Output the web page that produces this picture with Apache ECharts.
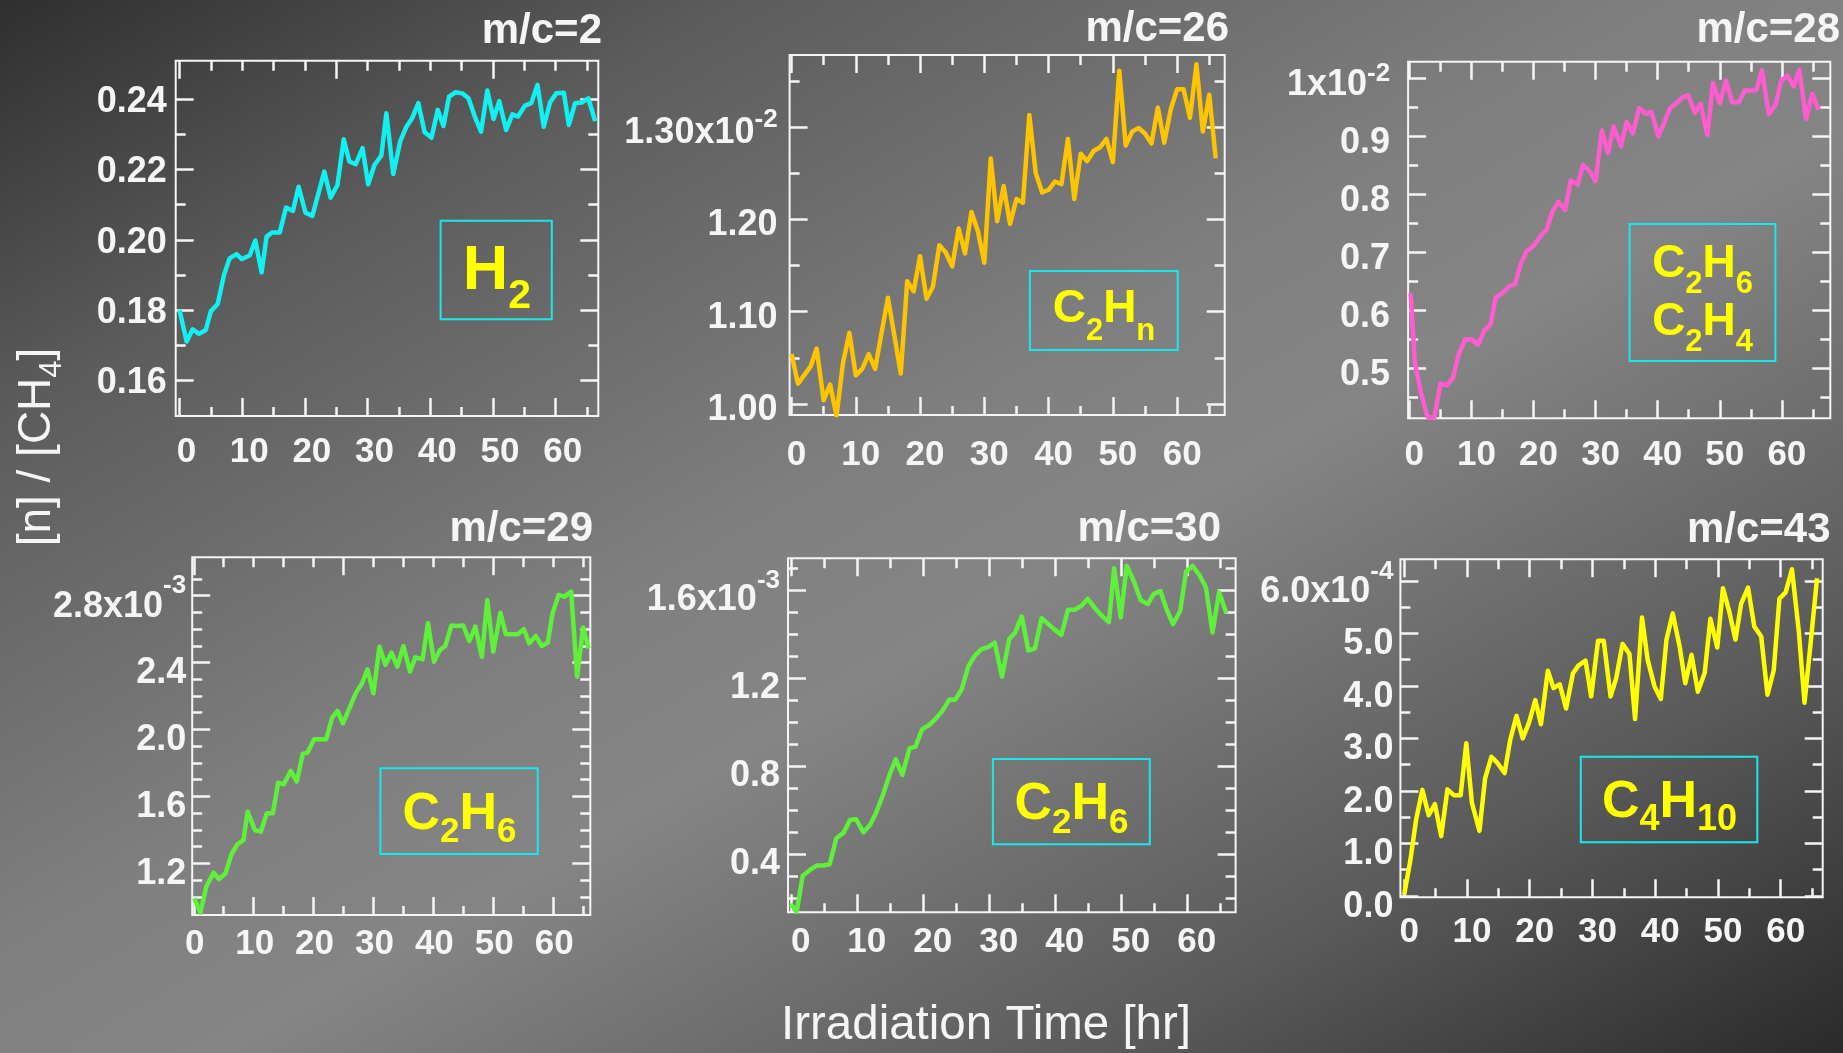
<!DOCTYPE html>
<html><head><meta charset="utf-8">
<script src="https://cdn.jsdelivr.net/npm/echarts@6/dist/echarts.min.js"></script>
<style>html,body{margin:0;padding:0;background:#555;}#c{width:1843px;height:1053px;}</style>
</head><body><div id="c"></div>
<script>
// ---------- DATA ----------
// m/c=2  (H2), [n]/[CH4]
const H2_T = [0,1.15,2.1,3.1,4.2,5.0,6.1,7.1,8.0,9.1,9.95,11.2,12.1,13.1,13.9,14.8,16.0,17.0,18.1,19.0,20.1,21.2,23.1,24.1,25.2,26.2,27.1,28.1,29.2,30.1,31.1,32.2,33.0,34.1,35.2,36.2,37.1,38.1,39.1,40.2,41.2,42.1,43.0,44.0,45.1,46.1,47.1,48.1,49.1,50.1,51.0,52.1,53.1,54.0,55.1,56.1,57.1,58.1,59.1,60.1,61.3,62.1,63.1,64.2,65.2,66.3];
const H2_V = [0.180,0.171,0.1745,0.1732,0.1743,0.1796,0.1817,0.190,0.1947,0.1959,0.1945,0.1955,0.1998,0.1907,0.2009,0.2021,0.2021,0.2092,0.2082,0.2151,0.2077,0.2068,0.2194,0.2120,0.2156,0.2286,0.2223,0.2215,0.2261,0.2158,0.2213,0.2240,0.2360,0.2187,0.2280,0.2322,0.2346,0.2389,0.2306,0.2291,0.2370,0.2324,0.2408,0.2420,0.2417,0.2403,0.2351,0.2308,0.2425,0.2344,0.2395,0.2313,0.2357,0.2351,0.2382,0.2389,0.2441,0.2322,0.2391,0.2417,0.2419,0.2327,0.2389,0.2391,0.2403,0.2338];
// m/c=26 (C2Hn), units of 1e-2
const C2HN_T = [0,1,3,3.9,5,6,7,8,9,10,11,12,13,15,17,18,19,20,21,22,23,24,25,26,27,28,29,30,31,32,33,34,35,36,37,38,39,40,41,42,43,44,45,46,47,48,49,50,51,52,53,54,55,56,57,58,59,60,61,62,63,64,65,66];
const C2HN_V = [1.054,1.022,1.041,1.060,1.004,1.021,0.987,1.044,1.077,1.031,1.038,1.054,1.038,1.115,1.033,1.133,1.122,1.160,1.114,1.127,1.172,1.164,1.149,1.190,1.163,1.208,1.187,1.153,1.266,1.198,1.236,1.195,1.222,1.218,1.313,1.250,1.229,1.232,1.241,1.238,1.287,1.222,1.271,1.263,1.274,1.278,1.287,1.262,1.361,1.280,1.295,1.299,1.293,1.282,1.321,1.283,1.319,1.341,1.341,1.310,1.368,1.295,1.335,1.266];
// m/c=28 (C2H6, C2H4), units of 1e-2
const M28_T = [0.2,0.9,1.9,2.9,4.0,5.0,6.1,7.0,8.0,9.0,10.0,11.1,12.1,13.1,13.9,15.0,16.1,17.0,18.0,18.9,20.0,21.1,22.1,23.0,24.0,25.1,26.0,27.1,28.0,29.1,30.0,31.0,32.0,32.9,34.1,35.0,36.0,37.0,38.1,39.0,40.1,41.1,42.0,43.0,44.0,44.9,46.0,46.9,48.0,48.9,50.0,51.0,52.0,53.1,54.0,55.0,55.9,56.8,57.9,59.0,59.9,60.9,61.9,62.8,63.9,64.9,65.9];
const M28_V = [0.630,0.509,0.457,0.417,0.414,0.474,0.471,0.483,0.526,0.550,0.550,0.541,0.566,0.576,0.622,0.630,0.642,0.645,0.682,0.702,0.711,0.728,0.739,0.769,0.787,0.773,0.824,0.817,0.851,0.839,0.823,0.910,0.871,0.917,0.883,0.925,0.905,0.949,0.939,0.942,0.900,0.925,0.949,0.957,0.967,0.971,0.941,0.956,0.902,0.992,0.957,0.996,0.959,0.959,0.979,0.979,0.980,1.014,0.938,0.955,0.996,1.005,0.986,1.015,0.930,0.973,0.946];
// m/c=29 (C2H6), units of 1e-3
const M29_T = [0.1,1.1,2.1,3.3,4.2,5.3,6.3,7.3,8.3,9.0,10.2,11.2,12.2,13.2,14.1,15.0,16.2,17.2,18.2,19.0,20.1,22.1,23.1,24.0,24.9,26.1,27.1,28.1,29.0,30.0,31.0,32.0,33.0,34.0,35.0,36.1,37.0,38.2,39.1,40.1,41.1,42.0,43.0,44.0,45.0,46.0,47.0,48.1,49.0,50.0,51.2,52.1,54.1,55.1,56.0,57.1,58.1,59.1,59.9,60.9,61.9,63.0,64.0,65.0,65.9];
const M29_V = [0.991,0.905,1.061,1.144,1.106,1.140,1.254,1.314,1.340,1.509,1.399,1.389,1.499,1.499,1.682,1.672,1.752,1.688,1.854,1.862,1.941,1.941,2.071,2.111,2.037,2.137,2.220,2.276,2.360,2.216,2.495,2.386,2.459,2.376,2.499,2.346,2.431,2.419,2.635,2.405,2.475,2.499,2.621,2.619,2.621,2.529,2.615,2.435,2.774,2.465,2.698,2.569,2.569,2.599,2.515,2.559,2.499,2.519,2.694,2.804,2.794,2.824,2.316,2.609,2.485];
// m/c=30 (C2H6), units of 1e-3
const M30_T = [0,0.9,1.8,2.9,3.9,5.0,5.9,6.9,8.0,9.0,9.9,11.0,12.0,12.9,14.0,15.0,15.9,16.9,18.0,18.9,19.9,21.0,21.9,23.0,24.0,24.9,25.9,26.9,27.9,28.9,29.9,30.9,32.0,33.1,34.0,35.0,36.0,37.0,38.0,39.0,40.0,41.0,42.0,43.0,44.0,45.0,46.0,47.0,48.2,49.0,50.0,50.9,52.0,53.0,54.1,55.0,56.0,56.9,57.9,59.0,59.9,60.9,61.9,62.9,63.9,64.9,66.0];
const M30_V = [0.172,0.137,0.300,0.327,0.347,0.347,0.353,0.471,0.497,0.555,0.558,0.499,0.532,0.585,0.672,0.763,0.831,0.760,0.881,0.889,0.968,0.988,1.014,1.053,1.102,1.102,1.150,1.254,1.304,1.333,1.342,1.363,1.208,1.378,1.409,1.482,1.327,1.337,1.474,1.448,1.421,1.398,1.512,1.512,1.530,1.562,1.523,1.489,1.456,1.702,1.478,1.712,1.641,1.557,1.538,1.585,1.598,1.519,1.447,1.507,1.687,1.712,1.671,1.615,1.409,1.592,1.497];
// m/c=43 (C4H10), units of 1e-4
const M43_T = [0,1.0,1.9,2.9,3.9,4.9,5.9,6.9,7.9,9.0,9.9,10.8,12.0,12.9,13.9,14.9,16.0,16.9,17.9,18.9,19.9,20.9,21.8,22.9,23.8,24.8,25.8,26.9,27.8,28.9,29.8,30.9,31.8,32.9,33.8,34.8,35.9,36.8,37.9,38.8,39.9,40.9,41.8,42.8,43.9,44.8,45.8,46.8,47.9,48.8,49.9,50.8,51.8,52.8,53.7,54.8,55.8,56.9,57.9,58.9,59.8,60.8,61.8,62.9,63.8,64.8,65.8];
const M43_V = [0.02,0.69,1.45,2.02,1.54,1.75,1.14,2.03,1.92,1.92,2.91,1.77,1.24,2.24,2.65,2.53,2.34,2.97,3.43,3.00,3.30,3.73,3.27,4.29,3.96,4.03,3.57,4.24,4.39,4.48,3.80,4.86,4.86,3.80,4.15,4.80,4.61,3.37,5.30,4.50,3.99,3.75,4.88,5.38,4.75,4.05,4.59,3.89,4.25,5.28,4.73,5.86,5.42,4.88,5.56,5.87,5.13,4.94,3.83,4.30,5.66,5.78,6.22,5.03,3.68,4.84,6.05];

// ---------- TICKS / LABELS ----------
const X_MAJOR = [0,10,20,30,40,50,60];
const X_MINOR = [5,15,25,35,45,55,65];
const X_TOP_MAJOR_ALT = [0,25,50];
const X_TOP_MINOR_ALT = [5,10,15,20,30,35,40,45,55,60,65];

const Y1_MAJOR = [0.16,0.18,0.20,0.22,0.24];
const Y1_MINOR = [0.17,0.19,0.21,0.23];
const Y1_LABELS = ['0.16','0.18','0.20','0.22','0.24'];
const Y2_MAJOR = [1.00,1.10,1.20,1.30];
const Y2_MINOR = [1.05,1.15,1.25,1.35];
const Y2_LABELS = ['1.00','1.10','1.20','1.30x10'];
const Y3_MAJOR = [0.5,0.6,0.7,0.8,0.9,1.0];
const Y3_MINOR = [0.45,0.55,0.65,0.75,0.85,0.95];
const Y3_LABELS = ['0.5','0.6','0.7','0.8','0.9','1x10'];
const Y4_MAJOR = [1.2,1.6,2.0,2.4,2.8];
const Y4_MINOR = [1.0,1.1,1.3,1.4,1.5,1.7,1.8,1.9,2.1,2.2,2.3,2.5,2.6,2.7,2.9];
const Y4_LABELS = ['1.2','1.6','2.0','2.4','2.8x10'];
const Y5_MAJOR = [0.4,0.8,1.2,1.6];
const Y5_MINOR = [0.2,0.3,0.5,0.6,0.7,0.9,1.0,1.1,1.3,1.4,1.5,1.7];
const Y5_LABELS = ['0.4','0.8','1.2','1.6x10'];
const Y6_MAJOR = [0,1,2,3,4,5,6];
const Y6_MINOR = [0.5,1.5,2.5,3.5,4.5,5.5];
const Y6_LABELS = ['0.0','1.0','2.0','3.0','4.0','5.0','6.0x10'];

const TITLES = ['m/c=2','m/c=26','m/c=28','m/c=29','m/c=30','m/c=43'];

// ---------- LAYOUT / STYLE ----------
const FONT = '"Liberation Sans", Arial, Helvetica, sans-serif';
const panels = [
  {t:H2_T, v:H2_V, color:'#10f2f2', grid:{left:175.7,top:60.7,width:422.6,height:355.3}, xMin:-0.6, xMax:66.8, yMin:0.1498, yMax:0.251,
   yMajor:Y1_MAJOR, yMinor:Y1_MINOR, yLabels:Y1_LABELS, exp:null, expPad:0, topMajor:X_TOP_MAJOR_ALT, topMinor:X_TOP_MINOR_ALT,
   xMargin:19, xShift:7, yMargin:9, yOff:3, titleX:602, titleY:31,
   box:{x:440.6,y:220.7,w:111.2,h:98.6, tx:497, ty:278.5, lines:[[['H','m'],['2','s']]], F:63, f:41, d:14}},
  {t:C2HN_T, v:C2HN_V, color:'#ffc400', grid:{left:789.6,top:55,width:435.1,height:360}, xMin:-0.3, xMax:67.4, yMin:0.988, yMax:1.378,
   yMajor:Y2_MAJOR, yMinor:Y2_MINOR, yLabels:Y2_LABELS, exp:'-2', expPad:8, topMajor:X_MAJOR, topMinor:X_MINOR,
   xMargin:23, xShift:5, yMargin:12, yOff:6, titleX:1229, titleY:29.5,
   box:{x:1029.9,y:271,w:147.8,h:79, tx:1104, ty:316.7, lines:[[['C','m'],['2','s'],['H','m'],['n','s']]], F:46, f:31, d:14}},
  {t:M28_T, v:M28_V, color:'#ff5ccf', grid:{left:1408.1,top:61.7,width:422.2,height:356.6}, xMin:-0.2, xMax:67.8, yMin:0.414, yMax:1.0287,
   yMajor:Y3_MAJOR, yMinor:Y3_MINOR, yLabels:Y3_LABELS, exp:'-2', expPad:6.5, topMajor:X_MAJOR, topMinor:X_MINOR,
   xMargin:20, xShift:5, yMargin:18, yOff:7, titleX:1840, titleY:30.5,
   box:{x:1629.6,y:224,w:145.8,h:137, tx:1702.6, ty:299.7, lines:[[['C','m'],['2','s'],['H','m'],['6','s']],[['C','m'],['2','s'],['H','m'],['4','s']]], F:46, f:31, d:12}},
  {t:M29_T, v:M29_V, color:'#5ef03a', grid:{left:192.2,top:557.3,width:398.1,height:357.7}, xMin:-0.26, xMax:66.2, yMin:0.891, yMax:3.029,
   yMajor:Y4_MAJOR, yMinor:Y4_MINOR, yLabels:Y4_LABELS, exp:'-3', expPad:15.5, topMajor:X_TOP_MAJOR_ALT, topMinor:X_TOP_MINOR_ALT,
   xMargin:12, xShift:1, yMargin:6, yOff:11, titleX:593, titleY:529,
   box:{x:380.4,y:768.3,w:157.3,h:85.7, tx:459.5, ty:819, lines:[[['C','m'],['2','s'],['H','m'],['6','s']]], F:52, f:35, d:9}},
  {t:M30_T, v:M30_V, color:'#5ef03a', grid:{left:788,top:558.3,width:447.6,height:354}, xMin:-0.42, xMax:67.4, yMin:0.134, yMax:1.747,
   yMajor:Y5_MAJOR, yMinor:Y5_MINOR, yLabels:Y5_LABELS, exp:'-3', expPad:15, topMajor:X_MAJOR, topMinor:X_MINOR,
   xMargin:13, xShift:10, yMargin:8, yOff:10, titleX:1221, titleY:529,
   box:{x:992.9,y:759,w:156.9,h:85.3, tx:1071.5, ty:809.4, lines:[[['C','m'],['2','s'],['H','m'],['6','s']]], F:52, f:35, d:10}},
  {t:M43_T, v:M43_V, color:'#ffff00', grid:{left:1400.4,top:559.3,width:422.3,height:338}, xMin:-0.6, xMax:66.7, yMin:-0.025, yMax:6.41,
   yMajor:Y6_MAJOR, yMinor:Y6_MINOR, yLabels:Y6_LABELS, exp:'-4', expPad:15, topMajor:X_MAJOR, topMinor:X_MINOR,
   xMargin:18, xShift:5, yMargin:7, yOff:11, titleX:1830.5, titleY:530,
   box:{x:1580.8,y:756.7,w:176.5,h:85.6, tx:1669.5, ty:807.3, lines:[[['C','m'],['4','s'],['H','m'],['10','s']]], F:52, f:36, d:10}}
];

const WHITE = '#f5f5f5';
const grids = [], xAxes = [], yAxes = [], series = [], graphics = [];

function tickAxis(kind, i, p, pos, ticks, len, label) {
  const isX = kind === 'x';
  return {
    gridIndex: i, type: 'value', position: pos,
    min: isX ? p.xMin : p.yMin, max: isX ? p.xMax : p.yMax,
    axisLine: {show: false, onZero: false},
    axisTick: {show: true, inside: true, length: len, customValues: ticks, lineStyle: {color: WHITE, width: 2.5}},
    axisLabel: label || {show: false},
    splitLine: {show: false}, minorTick: {show: false}, axisPointer: {show: false}
  };
}

panels.forEach((p, i) => {
  grids.push(Object.assign({show: true, borderColor: WHITE, borderWidth: 2, backgroundColor: 'transparent', containLabel: false, outerBoundsMode: 'none'}, p.grid));
  // x axes: bottom major (with labels), bottom minor, top major, top minor
  xAxes.push(tickAxis('x', i, p, 'bottom', X_MAJOR, 18, {
    show: true, customValues: X_MAJOR, formatter: v => String(Math.round(v)),
    color: WHITE, fontSize: 35, fontWeight: 'bold', fontFamily: FONT, margin: p.xMargin, padding: [0, 0, 0, 2 * p.xShift]
  }));
  xAxes.push(tickAxis('x', i, p, 'bottom', X_MINOR, 9));
  xAxes.push(tickAxis('x', i, p, 'top', p.topMajor, 18));
  xAxes.push(tickAxis('x', i, p, 'top', p.topMinor, 10));
  // y axes
  const rich = {
    n: {fontSize: 36, fontWeight: 'bold', color: WHITE, fontFamily: FONT, verticalAlign: 'top', padding: [p.expPad, 0, p.expPad, 0]},
    e: {fontSize: 26, fontWeight: 'bold', color: WHITE, fontFamily: FONT, verticalAlign: 'top'}
  };
  yAxes.push(tickAxis('y', i, p, 'left', p.yMajor, 18, {
    show: true, customValues: p.yMajor,
    formatter: v => {
      let k = 0;
      p.yMajor.forEach((m, j) => { if (Math.abs(m - v) < Math.abs(p.yMajor[k] - v)) k = j; });
      const s = p.yLabels[k];
      if (p.exp && k === p.yMajor.length - 1) return '{n|' + s + '}{e|' + p.exp + '}';
      return s;
    },
    rich: rich,
    color: WHITE, fontSize: 36, fontWeight: 'bold', fontFamily: FONT, margin: p.yMargin, padding: [2 * p.yOff, 0, 0, 0]
  }));
  yAxes.push(tickAxis('y', i, p, 'left', p.yMinor, 10));
  yAxes.push(tickAxis('y', i, p, 'right', p.yMajor, 18));
  yAxes.push(tickAxis('y', i, p, 'right', p.yMinor, 10));

  series.push({
    type: 'line', xAxisIndex: 4 * i, yAxisIndex: 4 * i,
    data: p.t.map((x, k) => [x, p.v[k]]),
    showSymbol: false, symbol: 'none', clip: true,
    lineStyle: {color: p.color, width: 4.5, join: 'round'}, itemStyle: {color: p.color},
    z: 5
  });

  // panel title
  graphics.push({type: 'text', x: p.titleX, y: p.titleY, z: 50,
    style: {text: TITLES[i], fill: WHITE, fontSize: 42, fontWeight: 'bold', fontFamily: FONT, align: 'right', verticalAlign: 'middle'}});

  // species box
  const b = p.box;
  const txt = b.lines.map(line => line.map(([s, k]) => '{' + k + '|' + s + '}').join('')).join('\n');
  graphics.push({type: 'rect', z: 40, shape: {x: b.x, y: b.y, width: b.w, height: b.h},
    style: {fill: 'none', stroke: '#18e8ee', lineWidth: 2}});
  graphics.push({type: 'text', z: 41, x: b.tx, y: b.ty,
    style: {text: txt, align: 'center', verticalAlign: 'middle',
      rich: {
        m: {fontSize: b.F, fontWeight: 'bold', fontFamily: FONT, fill: '#ffff00', verticalAlign: 'bottom', padding: [0, 0, b.d, 0]},
        s: {fontSize: b.f, fontWeight: 'bold', fontFamily: FONT, fill: '#ffff00', verticalAlign: 'bottom'}
      }}});
});

// shared axis titles
graphics.push({type: 'text', x: 41, y: 447, rotation: Math.PI / 2, z: 50,
  style: {text: '{r|[n] / [CH}{s|4}{r|]}', align: 'center', verticalAlign: 'middle',
    rich: {
      r: {fontSize: 46, fontFamily: FONT, fill: WHITE, verticalAlign: 'bottom', padding: [0, 0, 8, 0]},
      s: {fontSize: 31, fontFamily: FONT, fill: WHITE, verticalAlign: 'bottom'}
    }}});
graphics.push({type: 'text', x: 986, y: 1026, z: 50,
  style: {text: 'Irradiation Time [hr]', fill: WHITE, fontSize: 47.5, fontFamily: FONT, align: 'center', verticalAlign: 'middle'}});

const chart = echarts.init(document.getElementById('c'), null, {renderer: 'canvas', width: 1843, height: 1053});
chart.setOption({
  animation: false,
  backgroundColor: new echarts.graphic.LinearGradient(0, 0, 906, 1588, [
    {offset: 0, color: '#2f2f2f'},
    {offset: 0.2, color: '#5c5c5c'},
    {offset: 0.45, color: '#7f7f7f'},
    {offset: 0.56, color: '#858585'},
    {offset: 0.8, color: '#5a5a5a'},
    {offset: 1, color: '#2a2a2a'}
  ], true),
  grid: grids,
  xAxis: xAxes,
  yAxis: yAxes,
  series: series,
  graphic: {elements: graphics}
});
</script>
</body></html>
